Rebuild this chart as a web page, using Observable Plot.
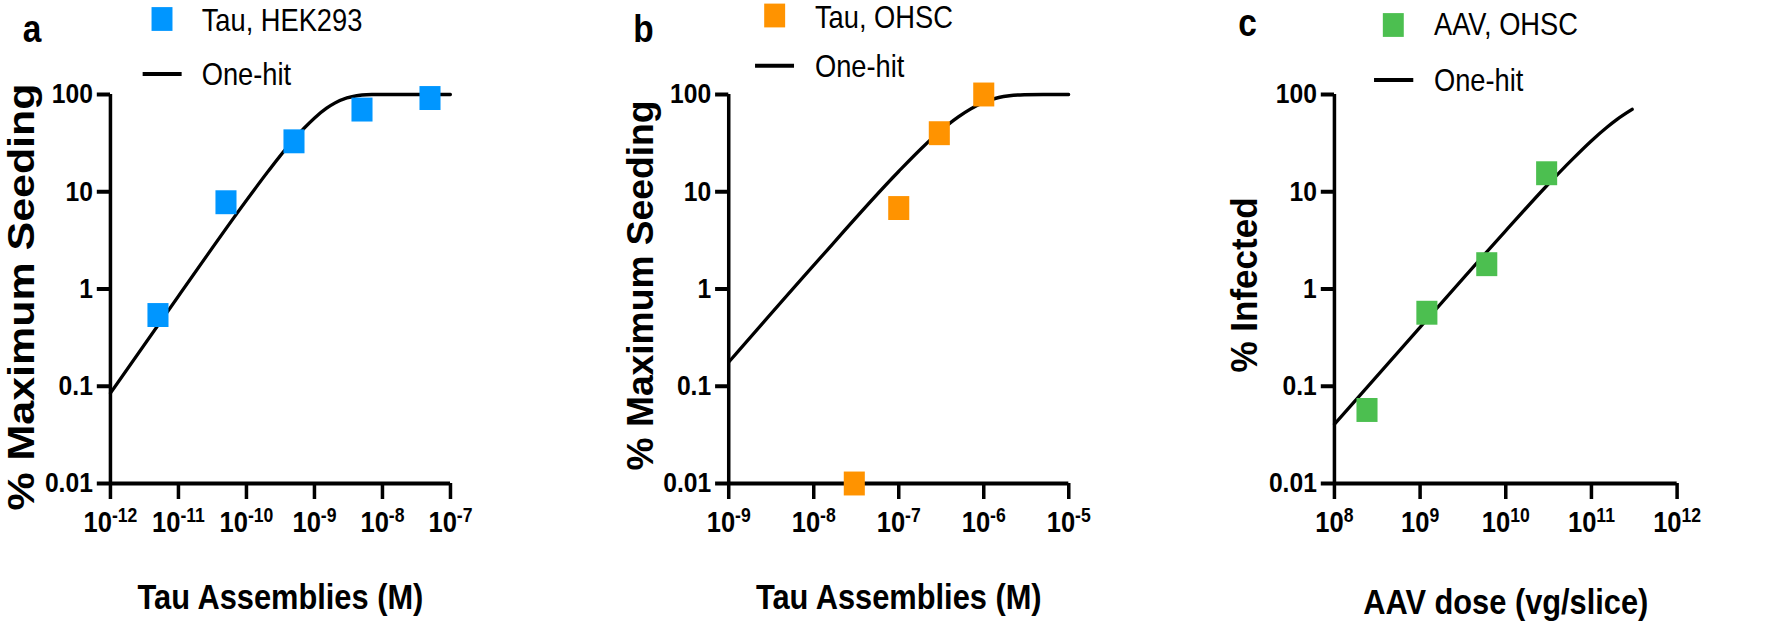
<!DOCTYPE html>
<html>
<head>
<meta charset="utf-8">
<script src="https://cdn.jsdelivr.net/npm/d3@7"></script>
<script src="https://cdn.jsdelivr.net/npm/@observablehq/plot@0.6"></script>
<style>
html, body { margin: 0; padding: 0; background: #fff; overflow: hidden; }
#wrap { position: relative; width: 2016px; height: 623px; transform: scaleX(0.88); transform-origin: 0 0; }
#wrap > svg { position: absolute; top: 0; }
</style>
</head>
<body>
<div id="wrap"></div>
<script>
// ---------- data ----------
const yTicks = [0.01, 0.1, 1, 10, 100];
const yTickLabels = ["0.01", "0.1", "1", "10", "100"];

// Panel a : Tau, HEK293
const aTicks = [1e-12, 1e-11, 1e-10, 1e-9, 1e-8, 1e-7];
const aTickExp = ["-12", "-11", "-10", "-9", "-8", "-7"];
const aConc = [5e-12, 5e-11, 5e-10, 5e-9, 5e-8];
const aSeeding = [0.54, 7.8, 33, 70, 92];
const aFitConc = [1e-12, 1e-11, 1e-10, 2e-10, 3e-10, 5e-10, 7e-10, 1e-9, 1.5e-9, 2e-9, 3e-9, 4e-9, 5e-9, 7e-9, 1e-8, 1e-7];
const aFitSeeding = [0.085, 0.846, 8.15, 15.6, 22.5, 34.6, 44.8, 57.3, 72.1, 81.7, 92.2, 96.7, 98.6, 99.74, 99.98, 100];

// Panel b : Tau, OHSC
const bTicks = [1e-9, 1e-8, 1e-7, 1e-6, 1e-5];
const bTickExp = ["-9", "-8", "-7", "-6", "-5"];
const bConc = [3e-8, 1e-7, 3e-7, 1e-6];
const bSeeding = [0.01, 6.8, 40, 100];
const bFitConc = [1e-9, 1e-8, 1e-7, 2e-7, 3e-7, 5e-7, 7e-7, 1e-6, 1.5e-6, 2e-6, 3e-6, 5e-6, 1e-5];
const bFitSeeding = [0.177, 1.754, 16.2, 29.8, 41.2, 58.7, 71.0, 83.0, 93.0, 97.1, 99.5, 99.99, 100];

// Panel c : AAV, OHSC
const cTicks = [1e8, 1e9, 1e10, 1e11, 1e12];
const cTickExp = ["8", "9", "10", "11", "12"];
const cDose = [2.4e8, 1.2e9, 6e9, 3e10];
const cInfected = [0.057, 0.57, 1.8, 15.5];
const cFitDose = [1e8, 1e9, 1e10, 3e10, 6e10, 1e11, 1.5e11, 2e11, 3e11];
const cFitInfected = [0.0406, 0.405, 3.98, 11.5, 21.6, 33.4, 45.6, 55.6, 70.4];

const colors = {a: "#0096ff", b: "#ff9300", c: "#4cbf50"};

// ---------- drawing ----------
const NS = "http://www.w3.org/2000/svg";
const FONT = '"Liberation Sans", Arial, Helvetica, sans-serif';
const wrap = document.getElementById("wrap");

function panel(cfg) {
  const pts = cfg.px.map((x, i) => ({x, y: cfg.py[i]}));
  const fit = cfg.fx.map((x, i) => ({x, y: cfg.fy[i]}));
  const svg = Plot.plot({
    width: cfg.width, height: 623,
    marginLeft: cfg.ml, marginRight: cfg.mr, marginTop: 94, marginBottom: 140,
    style: {fontFamily: FONT, fontSize: "28px", fontWeight: "bold", color: "#000", background: "transparent", overflow: "visible"},
    x: {type: "log", domain: [cfg.ticks[0], cfg.ticks[cfg.ticks.length - 1]]},
    y: {type: "log", domain: [yTicks[0], yTicks[yTicks.length - 1]]},
    marks: [
      Plot.ruleX([cfg.ticks[0]], {stroke: "#000", strokeWidth: 4}),
      Plot.ruleY([yTicks[0]], {stroke: "#000", strokeWidth: 4}),
      Plot.axisX({ticks: cfg.ticks, tickFormat: d => "10^" + cfg.exp[cfg.ticks.indexOf(d)],
        tickSize: 16, tickPadding: 12, strokeWidth: 4, label: null, fontSize: 29, fontWeight: "bold"}),
      Plot.axisY({ticks: yTicks, tickFormat: d => yTickLabels[yTicks.indexOf(d)],
        tickSize: 15, tickPadding: 5, strokeWidth: 4, label: null, fontSize: 28, fontWeight: "bold"}),
      Plot.line(fit, {x: "x", y: "y", stroke: "#000", strokeWidth: 3.5, curve: "monotone-x"}),
      Plot.dot(pts, {x: "x", y: "y", symbol: "square", r: 13.5, fill: cfg.color, stroke: "none"}),
      Plot.text([cfg.xTitle], {text: d => d, frameAnchor: "bottom", textAnchor: "middle", lineAnchor: "bottom",
        dy: cfg.xdy, fontSize: 35, fontWeight: "bold"}),
      Plot.text([cfg.yTitle], {text: d => d, frameAnchor: "left", textAnchor: "middle", lineAnchor: "bottom",
        rotate: -90, dx: cfg.ydx, dy: cfg.ydy, fontSize: 42, fontWeight: "bold"})
    ]
  });
  svg.style.left = cfg.left + "px";
  // superscript exponents on x tick labels
  svg.querySelectorAll('g[aria-label="x-axis tick label"] text').forEach(t => {
    const parts = t.textContent.split("^");
    if (parts.length !== 2) return;
    t.textContent = "";
    const b = document.createElementNS(NS, "tspan");
    b.textContent = parts[0];
    const e = document.createElementNS(NS, "tspan");
    e.textContent = parts[1];
    e.setAttribute("dy", "-10");
    e.setAttribute("font-size", "20");
    t.append(b, e);
  });
  // fit rotated title length
  svg.querySelectorAll("text").forEach(t => {
    if (t.textContent === cfg.yTitle) {
      t.setAttribute("textLength", cfg.yLen);
      t.setAttribute("lengthAdjust", "spacingAndGlyphs");
    }
  });
  wrap.appendChild(svg);
}

panel({left: 0, width: 670, ml: 125, mr: 158.6, ticks: aTicks, exp: aTickExp,
  px: aConc, py: aSeeding, fx: aFitConc, fy: aFitSeeding, color: colors.a,
  xTitle: "Tau Assemblies (M)", xdy: 125, yTitle: "% Maximum Seeding", ydx: -87, ydy: 8, yLen: 427});
panel({left: 670, width: 670, ml: 157.6, mr: 126, ticks: bTicks, exp: bTickExp,
  px: bConc, py: bSeeding, fx: bFitConc, fy: bFitSeeding, color: colors.b,
  xTitle: "Tau Assemblies (M)", xdy: 125, yTitle: "% Maximum Seeding", ydx: -86, ydy: -3.5, yLen: 370});
panel({left: 1340, width: 676, ml: 175.9, mr: 110.7, ticks: cTicks, exp: cTickExp,
  px: cDose, py: cInfected, fx: cFitDose, fy: cFitInfected, color: colors.c,
  xTitle: "AAV dose (vg/slice)", xdy: 130, yTitle: "% Infected", ydx: -88, ydy: -4, yLen: 175});

// ---------- legends and panel letters ----------
const legends = [
  {letter: "a", lx: 26, ly: 42, color: colors.a, sx: 184.1, sy: 19, name: "Tau, HEK293", tx: 229.2, ty1: 31, l1: 162.1, l2: 206.4, lyy: 74, ty2: 85},
  {letter: "b", lx: 719.7, ly: 42, color: colors.b, sx: 880.3, sy: 15.5, name: "Tau, OHSC", tx: 926.1, ty1: 28, l1: 858, l2: 902.3, lyy: 65.7, ty2: 76.7},
  {letter: "c", lx: 1407.2, ly: 36, color: colors.c, sx: 1583.3, sy: 25, name: "AAV, OHSC", tx: 1629.5, ty1: 35, l1: 1561.4, l2: 1606, lyy: 80, ty2: 90.7}
];
const ov = d3.select(wrap).append("svg")
  .attr("width", 2016).attr("height", 623)
  .style("left", "0px").style("pointer-events", "none")
  .style("font-family", FONT);
const side = 23.8;
for (const L of legends) {
  ov.append("text").attr("x", L.lx).attr("y", L.ly).attr("font-size", 38).attr("font-weight", "bold").text(L.letter);
  ov.append("rect").attr("x", L.sx - side / 2).attr("y", L.sy - side / 2).attr("width", side).attr("height", side).attr("fill", L.color);
  ov.append("text").attr("x", L.tx).attr("y", L.ty1).attr("font-size", 31).text(L.name);
  ov.append("line").attr("x1", L.l1).attr("x2", L.l2).attr("y1", L.lyy).attr("y2", L.lyy).attr("stroke", "#000").attr("stroke-width", 4);
  ov.append("text").attr("x", L.tx).attr("y", L.ty2).attr("font-size", 31).text("One-hit");
}
</script>
</body>
</html>
